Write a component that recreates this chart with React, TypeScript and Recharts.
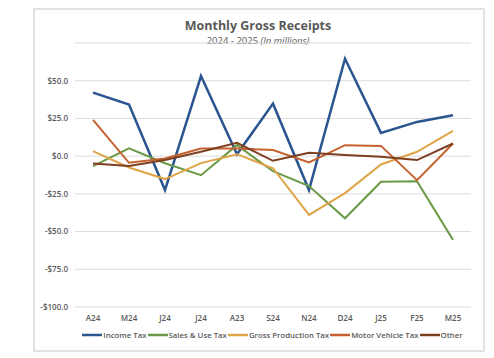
import React from "react";
import { LineChart, Line, XAxis, YAxis, CartesianGrid } from "recharts";

const months = ["A24", "M24", "J24", "J24", "A23", "S24", "N24", "D24", "J25", "F25", "M25"];
const incomeTax = [42.1, 34.2, -22.5, 53.1, 1.3, 34.8, -22.5, 64.6, 15.4, 22.7, 27.1];
const salesUseTax = [-6.6, 5.1, -4.7, -12.6, 7.3, -10.0, -19.8, -41.2, -17.0, -16.6, -55.5];
const grossProductionTax = [3.3, -7.5, -15.2, -4.6, 1.3, -8.0, -39.0, -24.5, -5.5, 2.9, 16.7];
const motorVehicleTax = [24.0, -4.4, -1.5, 5.1, 5.1, 4.0, -4.2, 7.3, 6.8, -15.9, 8.4];
const other = [-4.8, -6.6, -2.6, 2.9, 8.8, -3.1, 2.2, 0.7, -0.4, -2.6, 8.4];
const yTicks = [-100, -75, -50, -25, 0, 25, 50];

const series = [
  { key: "income", name: "Income Tax", color: "#2A5590", width: 2.5, values: incomeTax },
  { key: "sales", name: "Sales & Use Tax", color: "#6A9A45", width: 2, values: salesUseTax },
  { key: "gross", name: "Gross Production Tax", color: "#DFA447", width: 2, values: grossProductionTax },
  { key: "motor", name: "Motor Vehicle Tax", color: "#C6612F", width: 2, values: motorVehicleTax },
  { key: "other", name: "Other", color: "#7D3F1F", width: 2, values: other },
];

const data = months.map((m, i) => {
  const row: Record<string, any> = { m };
  series.forEach((s) => (row[s.key] = s.values[i]));
  return row;
});

const fmt = (v: number) => (v < 0 ? `-$${Math.abs(v).toFixed(1)}` : `$${v.toFixed(1)}`);

const font = "'Open Sans', 'Noto Sans', sans-serif";

export default function App() {
  return (
    <div style={{ position: "absolute", left: 0, top: 0, width: 494, height: 358, background: "#fff", fontFamily: font }}>
      <div
        style={{
          position: "absolute",
          left: 33,
          top: 8,
          width: 448,
          height: 340,
          border: "2px solid #e3e3e3",
        }}
      />
      <div style={{ position: "absolute", left: 0, top: 17, width: 516, textAlign: "center", fontSize: 12.5, fontWeight: 700, color: "#595959" }}>
        Monthly Gross Receipts
      </div>
      <div style={{ position: "absolute", left: 0, top: 34, width: 516, textAlign: "center", fontSize: 9.5, color: "#595959" }}>
        2024 - 2025 <i>(In millions)</i>
      </div>
      <div style={{ position: "absolute", left: 0, top: 0 }}>
        <LineChart width={494} height={358} data={data} margin={{ top: 43, right: 23, left: 35, bottom: 31 }}>
          <CartesianGrid vertical={false} stroke="#dcdcdc" strokeWidth={1} />
          <XAxis
            dataKey="m"
            axisLine={false}
            tickLine={false}
            tickSize={0}
            tickMargin={8}
            height={20}
            interval={0}
            padding={{ left: 18, right: 18 }}
            tick={{ fontSize: 8, fill: "#595959", fontWeight: 600, fontFamily: font }}
          />
          <YAxis
            domain={[-100, 75]}
            ticks={yTicks}
            width={40}
            axisLine={false}
            tickLine={false}
            tickSize={0}
            tickMargin={7}
            tickFormatter={fmt}
            tick={{ fontSize: 8, fill: "#595959", fontWeight: 600, fontFamily: font }}
          />
          {series.map((s) => (
            <Line
              key={s.key}
              dataKey={s.key}
              name={s.name}
              stroke={s.color}
              strokeWidth={s.width}
              dot={false}
              activeDot={false}
              isAnimationActive={false}
              strokeLinejoin="miter"
            />
          ))}
        </LineChart>
      </div>
      <div
        style={{
          position: "absolute",
          left: 75,
          top: 330,
          width: 396,
          display: "flex",
          justifyContent: "center",
          alignItems: "center",
          fontSize: 7.8,
          fontWeight: 600,
          color: "#595959",
          whiteSpace: "nowrap",
        }}
      >
        {series.map((s) => (
          <span key={s.key} style={{ display: "inline-flex", alignItems: "center", marginRight: 1 }}>
            <svg width={20} height={8} style={{ marginRight: 1 }}>
              <line x1={0} y1={4} x2={20} y2={4} stroke={s.color} strokeWidth={2.5} />
            </svg>
            {s.name}
          </span>
        ))}
      </div>
    </div>
  );
}
